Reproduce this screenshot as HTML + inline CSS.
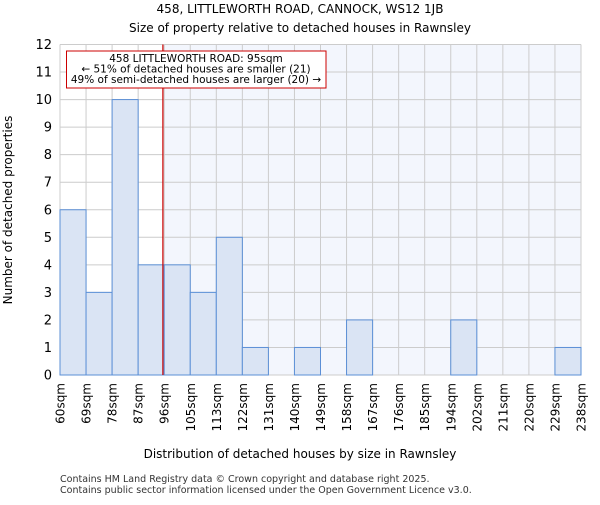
<!DOCTYPE html>
<html><head><meta charset="utf-8"><style>body{margin:0;background:#fff}svg{font-family:"DejaVu Sans","Liberation Sans",sans-serif}</style></head>
<body>
<svg id="c" width="600" height="500" xmlns="http://www.w3.org/2000/svg">
<text x="300" y="13" font-size="12" text-anchor="middle">458, LITTLEWORTH ROAD, CANNOCK, WS12 1JB</text>
<text x="300" y="32" font-size="12" text-anchor="middle">Size of property relative to detached houses in Rawnsley</text>
<g id="plot"></g>
<text x="300" y="458" font-size="12" text-anchor="middle">Distribution of detached houses by size in Rawnsley</text>
<text transform="translate(12,210) rotate(-90)" font-size="12" text-anchor="middle">Number of detached properties</text>
<text x="60" y="482" font-size="9.5" fill="#333">Contains HM Land Registry data © Crown copyright and database right 2025.</text>
<text x="60" y="493" font-size="9.5" fill="#333">Contains public sector information licensed under the Open Government Licence v3.0.</text>
</svg>
<script>
const edgeLabels=["60sqm","69sqm","78sqm","87sqm","96sqm","105sqm","113sqm","122sqm","131sqm","140sqm","149sqm","158sqm","167sqm","176sqm","185sqm","194sqm","202sqm","211sqm","220sqm","229sqm","238sqm"];
const counts=[6,3,10,4,4,3,5,1,0,1,0,2,0,0,0,2,0,0,0,1];
const yTicks=[0,1,2,3,4,5,6,7,8,9,10,11,12];
const propertyBin=3.95;
const NS="http://www.w3.org/2000/svg";
const L=60,R=581,T=44.5,B=375,yMax=12;
const bw=(R-L)/counts.length;
const xs=i=>L+i*bw, ys=v=>B-(B-T)*v/yMax;
const g=document.getElementById('plot');
function el(t,a,p){const e=document.createElementNS(NS,t);for(const k in a)e.setAttribute(k,a[k]);(p||g).appendChild(e);return e;}
const rx=xs(propertyBin);
let e=el('rect',{x:rx,y:T,width:R-rx,height:B-T,fill:'#f3f6fd'});


yTicks.forEach(v=>{const l=el('line',{x1:L,x2:R,y1:ys(v),y2:ys(v),stroke:'#ccc'});


const t=el('text',{x:L-8,y:ys(v)+4.5,'font-size':13,'text-anchor':'end'});t.textContent=v;

});
edgeLabels.forEach((s,i)=>{const l=el('line',{x1:xs(i),x2:xs(i),y1:T,y2:B,stroke:'#ccc'});


const t=el('text',{transform:`translate(${xs(i)+4.5},${B+8}) rotate(-90)`,'font-size':12,'text-anchor':'end'});t.textContent=s;

});
counts.forEach((c,i)=>{if(!c)return;const r=el('rect',{x:xs(i),y:ys(c),width:bw,height:B-ys(c),fill:'#dae4f4',stroke:'#5b8fd6','stroke-width':1});

});
e=el('line',{x1:rx,x2:rx,y1:T,y2:B,stroke:'#cc0000','stroke-width':1.2});


e=el('rect',{x:66.5,y:51,width:259.5,height:37,fill:'#fff',stroke:'#cc0000'});


["458 LITTLEWORTH ROAD: 95sqm","← 51% of detached houses are smaller (21)","49% of semi-detached houses are larger (20) →"].forEach((s,i)=>{const t=el('text',{x:196,y:62+i*10.5,'font-size':10.5,'text-anchor':'middle'});t.textContent=s;

});
</script>
</body></html>
